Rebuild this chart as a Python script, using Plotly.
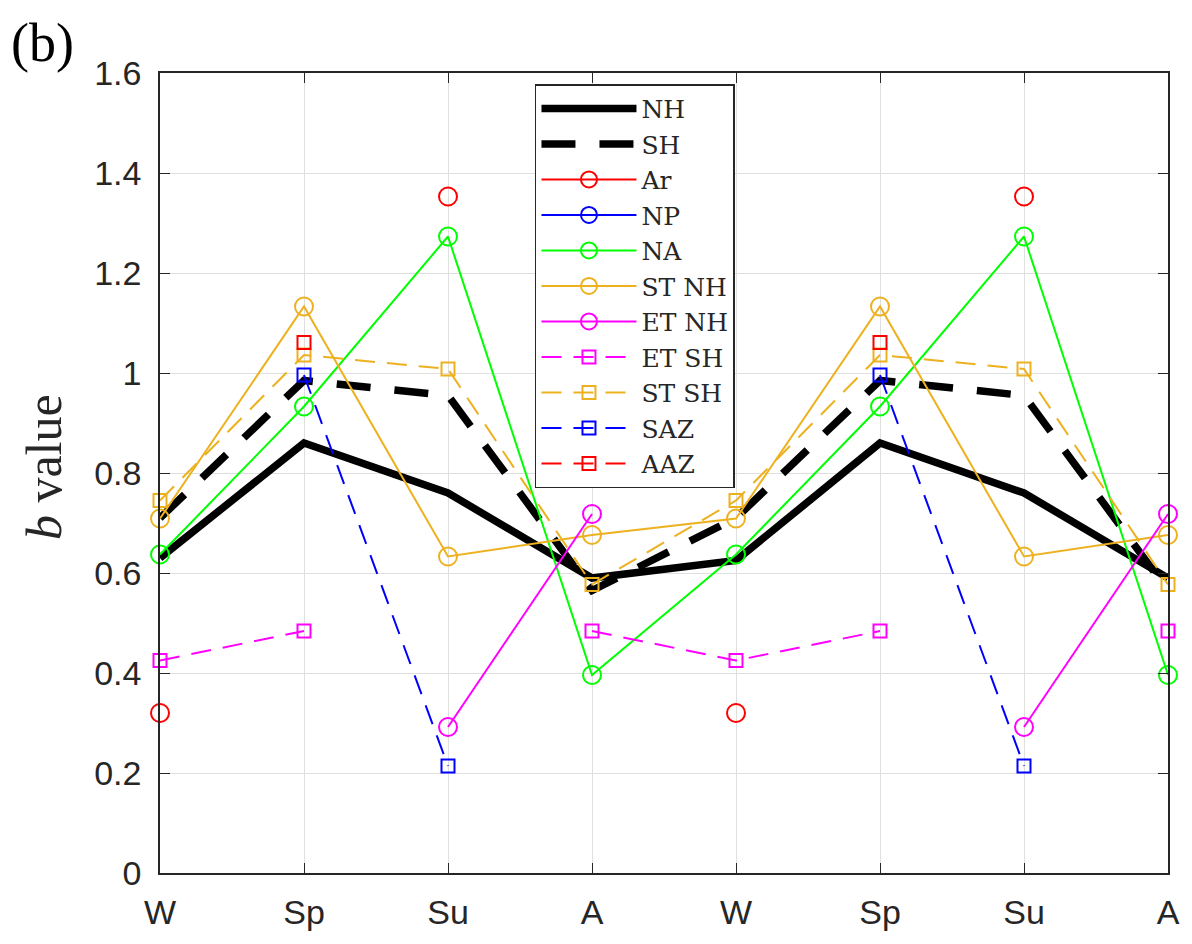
import plotly.graph_objects as go

nan = None
seasons = ["W", "Sp", "Su", "A", "W", "Sp", "Su", "A"]
xpos = [1, 2, 3, 4, 5, 6, 7, 8]

nh = [0.63, 0.86, 0.76, 0.59, 0.625, 0.86, 0.76, 0.59]
sh = [0.71, 0.985, 0.955, 0.565, 0.71, 0.985, 0.955, 0.565]
ar = [0.32, nan, 1.353, nan, 0.32, nan, 1.353, nan]
np_ = [nan] * 8
na = [0.637, 0.933, 1.273, 0.396, 0.637, 0.933, 1.273, 0.396]
st_nh = [0.709, 1.133, 0.633, 0.676, 0.709, 1.133, 0.633, 0.676]
et_nh = [nan, nan, 0.292, 0.718, nan, nan, 0.292, 0.718]
et_sh = [0.425, 0.484, nan, 0.484, 0.425, 0.484, nan, 0.484]
st_sh = [0.745, 1.036, 1.008, 0.577, 0.745, 1.036, 1.008, 0.577]
saz = [nan, 0.996, 0.214, nan, nan, 0.996, 0.214, nan]
aaz = [nan, 1.061, nan, nan, nan, 1.061, nan, nan]

yticks = [0, 0.2, 0.4, 0.6, 0.8, 1.0, 1.2, 1.4, 1.6]
yticklabels = ["0", "0.2", "0.4", "0.6", "0.8", "1", "1.2", "1.4", "1.6"]

RED = "#FF0000"
BLUE = "#0000FF"
GREEN = "#00FF00"
ORANGE = "#EDB120"
MAG = "#FF00FF"
AX = "#262626"

fig = go.Figure()

def thick(name, y, dash):
    fig.add_trace(go.Scatter(x=xpos, y=y, name=name, mode="lines",
                             line=dict(color="black", width=7.5, dash=dash),
                             cliponaxis=False))

def circ(name, y, color):
    fig.add_trace(go.Scatter(x=xpos, y=y, name=name, mode="lines+markers",
                             line=dict(color=color, width=2),
                             marker=dict(symbol="circle-open", size=18, color=color,
                                         line=dict(color=color, width=2)),
                             cliponaxis=False))

def sq(name, y, color):
    fig.add_trace(go.Scatter(x=xpos, y=y, name=name, mode="lines+markers",
                             line=dict(color=color, width=2, dash="20px,12px"),
                             marker=dict(symbol="square-open", size=13, color=color,
                                         line=dict(color=color, width=2)),
                             cliponaxis=False))

thick("NH", nh, "solid")
thick("SH", sh, "34px,24px")
circ("Ar", ar, RED)
circ("NP", np_, BLUE)
circ("NA", na, GREEN)
circ("ST NH", st_nh, ORANGE)
circ("ET NH", et_nh, MAG)
sq("ET SH", et_sh, MAG)
sq("ST SH", st_sh, ORANGE)
sq("SAZ", saz, BLUE)
sq("AAZ", aaz, RED)

axis_common = dict(showgrid=True, gridcolor="#DFDFDF", gridwidth=1,
                   showline=True, linecolor=AX, linewidth=1.5, mirror="ticks",
                   ticks="inside", ticklen=10, tickcolor=AX, tickwidth=1,
                   tickfont=dict(family="Liberation Sans", size=34, color=AX),
                   zeroline=False)

fig.update_xaxes(range=[1, 8], tickvals=xpos, ticktext=seasons,
                 ticklabelstandoff=8, **axis_common)
fig.update_yaxes(range=[0, 1.6], tickvals=yticks, ticktext=yticklabels,
                 ticklabelstandoff=10, **axis_common)

# page body has an 8px margin; figure sized so the plot area lands at 160..1168 x 73..873
fig.update_layout(
    width=1184, height=936,
    margin=dict(l=152, r=24, t=65, b=71),
    plot_bgcolor="white", paper_bgcolor="white",
    showlegend=True,
    legend=dict(x=0.372, y=0.986, xanchor="left", yanchor="top",
                bordercolor=AX, borderwidth=1.5, bgcolor="white",
                font=dict(family="DejaVu Serif", size=25, color=AX),
                itemwidth=95, tracegroupgap=0),
    annotations=[
        dict(text="(b)", xref="paper", yref="paper", x=-0.1495, y=1.0375,
             xanchor="left", yanchor="middle", showarrow=False,
             font=dict(family="Liberation Serif", size=54, color="black")),
        dict(text="<i>b</i> value", xref="paper", yref="paper", x=-0.115, y=0.5075,
             xanchor="center", yanchor="middle", textangle=-90, showarrow=False,
             font=dict(family="Liberation Serif", size=50, color=AX)),
    ],
)

fig.write_html("out.html")
